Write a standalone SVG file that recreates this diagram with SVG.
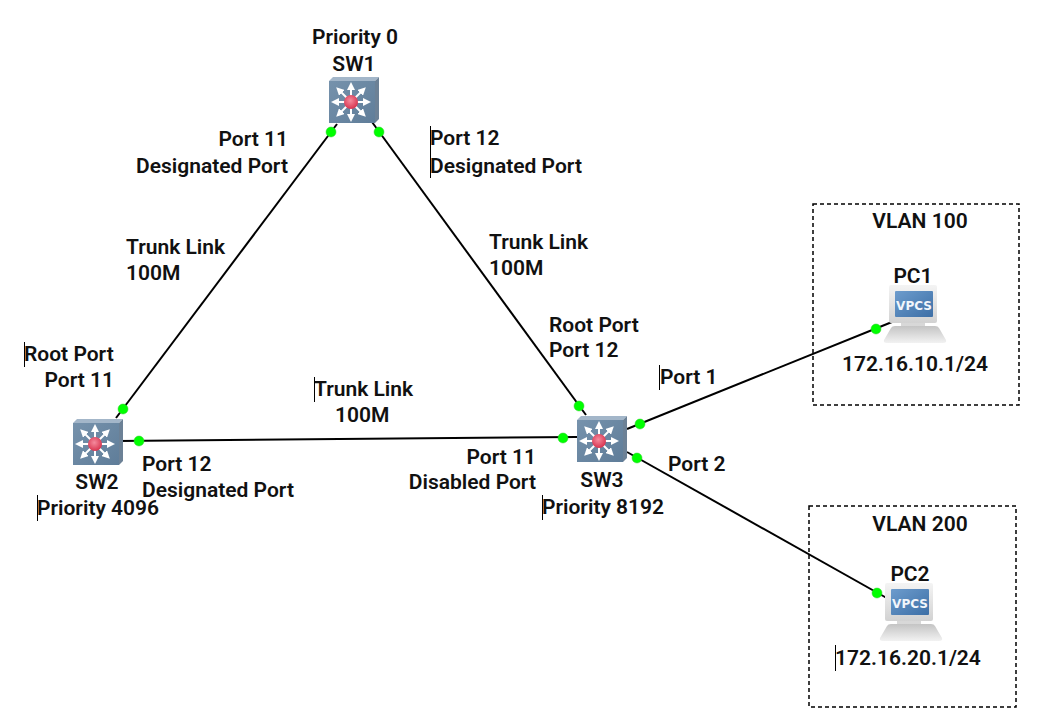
<svg xmlns="http://www.w3.org/2000/svg" width="1040" height="728" viewBox="0 0 1040 728">
<style>
text{font-family:Roboto,"Liberation Sans",sans-serif;font-weight:600;font-size:21px;fill:#111}
.m{text-anchor:middle}.e{text-anchor:end}
.l{stroke:#000;stroke-width:2;fill:none}
.d{fill:#0f0;stroke:#3c3;stroke-width:.5}
.c{stroke:#000;stroke-width:1}
.b{fill:none;stroke:#000;stroke-width:1.5;stroke-dasharray:4 3}
text.v{font-family:"DejaVu Sans",sans-serif;font-weight:700;font-size:12px;fill:#f2f6fb}
</style>
<defs>
<linearGradient id="ft" x1="0" y1="0" x2="1" y2="1"><stop offset="0" stop-color="#7692ac"/><stop offset="1" stop-color="#5f7d99"/></linearGradient>
<radialGradient id="rd" cx=".45" cy=".4" r=".6"><stop offset="0" stop-color="#f58a9d"/><stop offset="1" stop-color="#d8344f"/></radialGradient>
<linearGradient id="sc" x1="0" y1="0" x2="1" y2="1"><stop offset="0" stop-color="#6d9ccd"/><stop offset="1" stop-color="#3d6fa6"/></linearGradient>
<linearGradient id="fr" x1="0" y1="0" x2="0" y2="1"><stop offset="0" stop-color="#f4f4f4"/><stop offset="1" stop-color="#d2d2d2"/></linearGradient>
<linearGradient id="bs" x1="0" y1="0" x2="0" y2="1"><stop offset="0" stop-color="#c4c4c4"/><stop offset="1" stop-color="#f2f2f2"/></linearGradient>
<marker id="ah" markerWidth="4" markerHeight="4" refX="2" refY="2" orient="auto"><path d="M0 0L4 2L0 4z" fill="#fff"/></marker>
<g id="swi">
<path d="M-22 -21L-18 -25H28L24 -21z" fill="#a3b6c9"/>
<path d="M24 -21L28 -25V17L24 21z" fill="#6c8196"/>
<rect x="-22" y="-21" width="46" height="42" fill="url(#ft)"/>
<g stroke="#fff" stroke-width="2" marker-end="url(#ah)">
<line x1="0" y1="0" x2="0" y2="-16"/><line x1="0" y1="0" x2="0" y2="16"/>
<line x1="0" y1="0" x2="-16" y2="0"/><line x1="0" y1="0" x2="16" y2="0"/>
<line x1="0" y1="0" x2="-12" y2="-12"/><line x1="0" y1="0" x2="12" y2="-12"/>
<line x1="0" y1="0" x2="-12" y2="12"/><line x1="0" y1="0" x2="12" y2="12"/>
</g>
<circle r="7" fill="url(#rd)"/>
</g>
<g id="pc">
<path d="M12 -10H36V-3H12z" fill="#d8d8d8"/>
<path d="M6 -3H46Q49 -3 50 -1L57 11Q58 14 54 14H-2Q-6 14 -5 11L2 -1Q3 -3 6 -3z" fill="url(#bs)"/>
<rect x="0" y="-44" width="48" height="38" rx="2" fill="url(#fr)"/>
<rect x="6" y="-38" width="38" height="26" rx="1" fill="url(#sc)"/>
<text class="v m" x="25" y="-19.500">VPCS</text>
</g>
</defs>

<g id="links">
<line class="l" x1="337" y1="124" x2="116" y2="418"/>
<line class="l" x1="372" y1="122" x2="586" y2="415"/>
<line class="l" x1="118" y1="441" x2="577" y2="437"/>
<line class="l" x1="627" y1="429" x2="892" y2="322"/>
<line class="l" x1="627" y1="452" x2="892" y2="601"/>
<circle class="d" cx="331" cy="132" r="5"/><circle class="d" cx="379" cy="132" r="5"/>
<circle class="d" cx="123" cy="409" r="5"/><circle class="d" cx="139" cy="441" r="5"/>
<circle class="d" cx="579" cy="406" r="5"/><circle class="d" cx="563" cy="438" r="5"/>
<circle class="d" cx="640" cy="424" r="5"/><circle class="d" cx="637" cy="458" r="5"/>
<circle class="d" cx="876" cy="329" r="5"/><circle class="d" cx="877" cy="593" r="5"/>
</g>

<g id="SW1"><use href="#swi" x="351" y="102"/><text class="m" x="355" y="44">Priority 0</text><text class="m" x="354" y="71">SW1</text></g>
<g id="SW2"><use href="#swi" x="95" y="444"/><text class="m" x="97" y="489">SW2</text><text x="37" y="515">Priority 4096</text><line class="c" x1="37.500" y1="495" x2="37.500" y2="521"/></g>
<g id="SW3"><use href="#swi" x="599" y="441"/><text class="m" x="602" y="487">SW3</text><text x="542" y="514">Priority 8192</text><line class="c" x1="542.500" y1="495" x2="542.500" y2="520"/></g>
<g id="PC1"><use href="#pc" x="889" y="329"/><text class="m" x="913" y="283">PC1</text><text class="m" x="915" y="371">172.16.10.1/24</text></g>
<g id="PC2"><use href="#pc" x="885" y="627"/><text class="m" x="910" y="581">PC2</text><text x="835" y="665">172.16.20.1/24</text><line class="c" x1="835.500" y1="645" x2="835.500" y2="671"/></g>

<g id="VLAN100"><rect class="b" x="813" y="204" width="206" height="201"/><text class="m" x="920" y="228">VLAN 100</text></g>
<g id="VLAN200"><rect class="b" x="809" y="506" width="207" height="201"/><text class="m" x="920" y="531">VLAN 200</text></g>

<g id="labels">
<text class="e" x="288" y="146">Port 11</text><text class="e" x="288" y="173">Designated Port</text>
<text x="430" y="145">Port 12</text><text x="430" y="173">Designated Port</text>
<line class="c" x1="430.500" y1="126" x2="430.500" y2="178"/>
<text x="126" y="254">Trunk Link</text><text x="126" y="280">100M</text>
<text x="489" y="249">Trunk Link</text><text x="489" y="275">100M</text>
<text x="549" y="332">Root Port</text><text x="549" y="357">Port 12</text>
<text x="24" y="361">Root Port</text><text class="e" x="114" y="387">Port 11</text>
<line class="c" x1="24.500" y1="342" x2="24.500" y2="367"/>
<text x="314" y="396">Trunk Link</text><text x="335" y="422">100M</text>
<line class="c" x1="314.500" y1="377" x2="314.500" y2="402"/>
<text x="660" y="384">Port 1</text><line class="c" x1="659.500" y1="365" x2="659.500" y2="390"/>
<text x="668" y="471">Port 2</text>
<text x="142" y="471">Port 12</text><text x="142" y="497">Designated Port</text>
<text class="e" x="536" y="464">Port 11</text><text class="e" x="536" y="489">Disabled Port</text>
</g>
</svg>
